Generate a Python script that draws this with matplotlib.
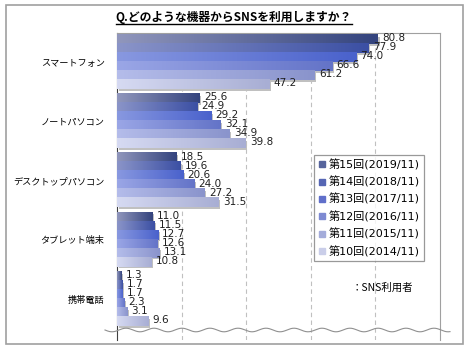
import numpy as np
import matplotlib
matplotlib.use('Agg')
import matplotlib.pyplot as plt
from matplotlib.colors import LinearSegmentedColormap
from matplotlib.lines import Line2D
from matplotlib.patches import Rectangle

plt.rcParams['font.family'] = ['DejaVu Sans', 'Noto Sans CJK JP']

categories = ['スマートフォン', 'ノートパソコン', 'デスクトップパソコン', 'タブレット端末', '携帯電話']
series = ['第15回(2019/11)', '第14回(2018/11)', '第13回(2017/11)',
          '第12回(2016/11)', '第11回(2015/11)', '第10回(2014/11)']
s15 = [80.8, 25.6, 18.5, 11.0, 1.3]
s14 = [77.9, 24.9, 19.6, 11.5, 1.7]
s13 = [74.0, 29.2, 20.6, 12.7, 1.7]
s12 = [66.6, 32.1, 24.0, 12.6, 2.3]
s11 = [61.2, 34.9, 27.2, 13.1, 3.1]
s10 = [47.2, 39.8, 31.5, 10.8, 9.6]
values = [s15, s14, s13, s12, s11, s10]

# gradient colours per series (left end, right end) and legend swatch
grad = [('#9096bc', '#34447e'), ('#8a94c8', '#3c50a4'), ('#8898e0', '#4a62cc'),
        ('#9aa6e6', '#6474c8'), ('#b4bcea', '#8a94cc'), ('#d6daf2', '#a8aed4')]
swatch = ['#56649c', '#5666b4', '#606fca', '#7e8ad2', '#a4acda', '#cacee9']

W, H = 470, 350
fig = plt.figure(figsize=(W / 100, H / 100), dpi=100)
fig.patch.set_facecolor('white')

# outer frame
fig.add_artist(Rectangle((6 / W, 1 - 344 / H), 457 / W, 339 / H, transform=fig.transFigure,
                         fill=False, edgecolor='#a0a0a0', lw=1.2))

ax = fig.add_axes([117 / W, 10 / H, 323 / W, 307 / H])

bh = 0.152
gtop = -0.46
for j, vals in enumerate(values):
    cmap = LinearSegmentedColormap.from_list('g%d' % j, list(grad[j]))
    for i, v in enumerate(vals):
        y0 = i + gtop + j * bh
        # drop shadow
        ax.add_patch(Rectangle((0.5, y0 + 0.03), v, bh, facecolor='#c0c0c0',
                               edgecolor='none', zorder=2))
        ax.imshow(np.linspace(0, 1, 64).reshape(1, -1), cmap=cmap, aspect='auto',
                  extent=(0, v, y0 + bh, y0), zorder=3, interpolation='bilinear')
        ax.text(v + 1.3, y0 + bh / 2 - 0.02, '%.1f' % v, fontsize=7.5,
                va='center', ha='left', color='#202020', zorder=4)
ax.set_xlim(0, 100)
ax.set_ylim(4.69, -0.49)

for gx in [20, 40, 60, 80]:
    ax.axvline(gx, color='#c0c0c0', lw=0.8, ls=(0, (4, 3)), zorder=1)

ax.set_xticks([])
ax.set_yticks(range(len(categories)))
ax.set_yticklabels(categories, fontsize=6.6, family=['Noto Sans CJK JP'])
ax.tick_params(axis='y', length=0, pad=9)
for s in ['top', 'right']:
    ax.spines[s].set_color('#a0a0a0')
ax.spines['left'].set_color('#404040')
ax.spines['bottom'].set_visible(False)

# wavy break line
wx = np.linspace(105, 450, 400)
wy = 330 + 1.8 * np.sin((wx - 105) / 28 * 2 * np.pi)
fig.add_artist(Line2D(wx / W, 1 - wy / H, transform=fig.transFigure,
                      color='#909090', lw=0.8))

# legend
handles = [Line2D([], [], marker='s', ls='none', markersize=4.5,
                  markerfacecolor=c, markeredgecolor=c) for c in swatch]
leg = ax.legend(handles, series, loc='upper left', bbox_to_anchor=(314 / W, 1 - 155 / H),
                bbox_transform=fig.transFigure, fontsize=8, frameon=True, fancybox=False,
                edgecolor='#808080', labelspacing=0.55, handlelength=0.7,
                handletextpad=0.3, borderpad=0.35, borderaxespad=0)
leg.get_frame().set_linewidth(0.9)

fig.text(352 / W, 1 - 288 / H, '：SNS利用者', fontsize=7.5, va='center', ha='left',
         family=['Noto Sans CJK JP'])

# title with underline
t = fig.text(234 / W, 1 - 17 / H, 'Q.どのような機器からSNSを利用しますか？', fontsize=8.5,
             fontweight='bold', ha='center', va='center',
             family=['Noto Sans CJK JP'])
fig.canvas.draw()
bb = t.get_window_extent(fig.canvas.get_renderer())
fig.add_artist(Line2D([bb.x0 / W, bb.x1 / W], [(bb.y0 - 0.5) / H] * 2,
                      transform=fig.transFigure, color='black', lw=1))

fig.savefig('out.png', dpi=100)
